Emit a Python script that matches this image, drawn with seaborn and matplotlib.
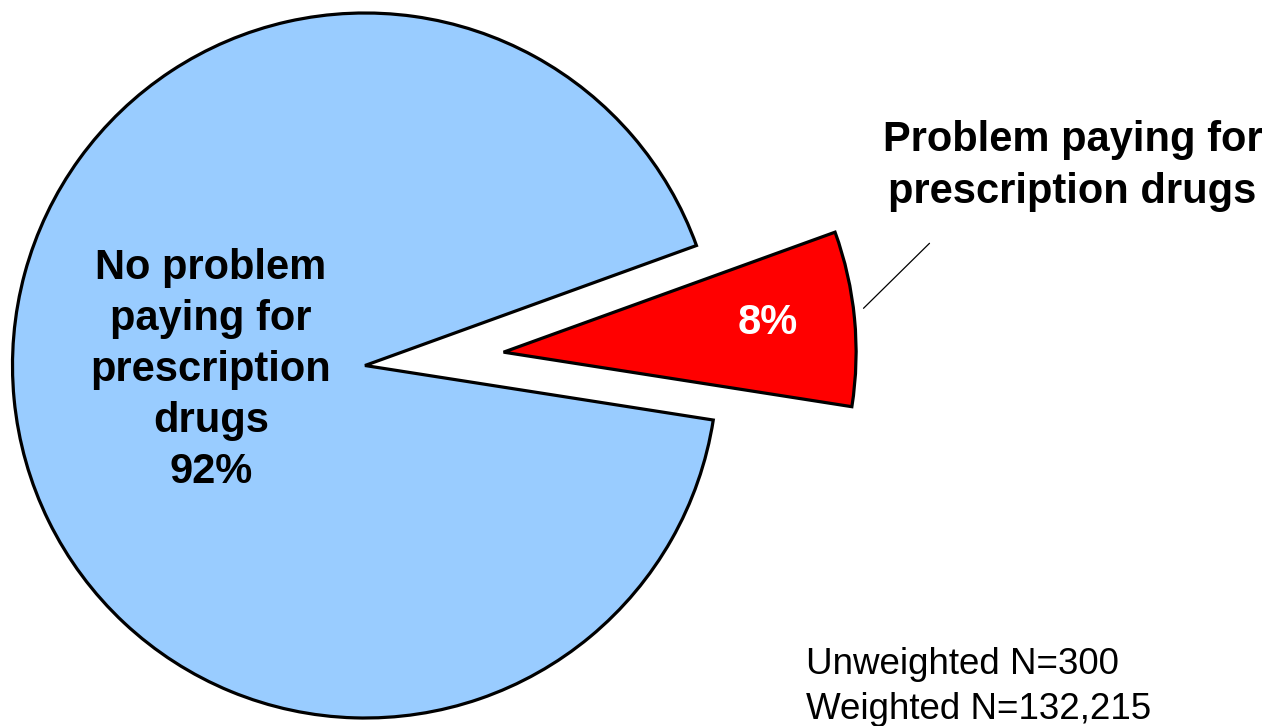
import matplotlib
matplotlib.use("Agg")
import matplotlib.pyplot as plt
from matplotlib.lines import Line2D
import seaborn as sns

labels = ["Problem paying for\nprescription drugs", "No problem\npaying for\nprescription\ndrugs"]
shares = [8, 92]
slice_colors = ["#FF0000", "#99CCFF"]
explode = [0.395, 0]
sample_note = "Unweighted N=300\nWeighted N=132,215"

sns.set_style("white")
plt.rcParams["font.family"] = ["Liberation Sans", "DejaVu Sans"]

W, H = 1272, 726
fig = plt.figure(figsize=(W / 100, H / 100), dpi=100)
ax = fig.add_axes([0, 0, 1, 1])

ax.pie(shares, colors=slice_colors, explode=explode, startangle=-8.9,
       counterclock=True,
       wedgeprops=dict(edgecolor="black", linewidth=2.3))

# pie radius 1 -> 352.5 px, centre at pixel (365, 365.5)
r = 352.5
ax.set_aspect("auto")
ax.set_xlim(-365 / r, (W - 365) / r)
ax.set_ylim(-(H - 365.5) / r, 365.5 / r)
ax.axis("off")

def fx(px):
    return px / W

def fy(py):
    return 1 - py / H

fig.text(fx(211), fy(370), f"{labels[1]}\n{shares[1]}%", ha="center", va="center",
         fontsize=30, fontweight="bold", linespacing=1.36, color="black")
fig.text(fx(768), fy(323), f"{shares[0]}%", ha="center", va="center",
         fontsize=30, fontweight="bold", color="white")
fig.text(fx(1072.5), fy(166), labels[0], ha="center", va="center",
         fontsize=30, fontweight="bold", linespacing=1.36, color="black")

fig.add_artist(Line2D([fx(863.5), fx(929.5)], [fy(308.3), fy(243.3)],
                      color="black", linewidth=0.9))

fig.text(fx(806), fy(727), sample_note, ha="left", va="bottom",
         fontsize=26.5, linespacing=1.36, color="black")

fig.savefig("out.png", dpi=100)
